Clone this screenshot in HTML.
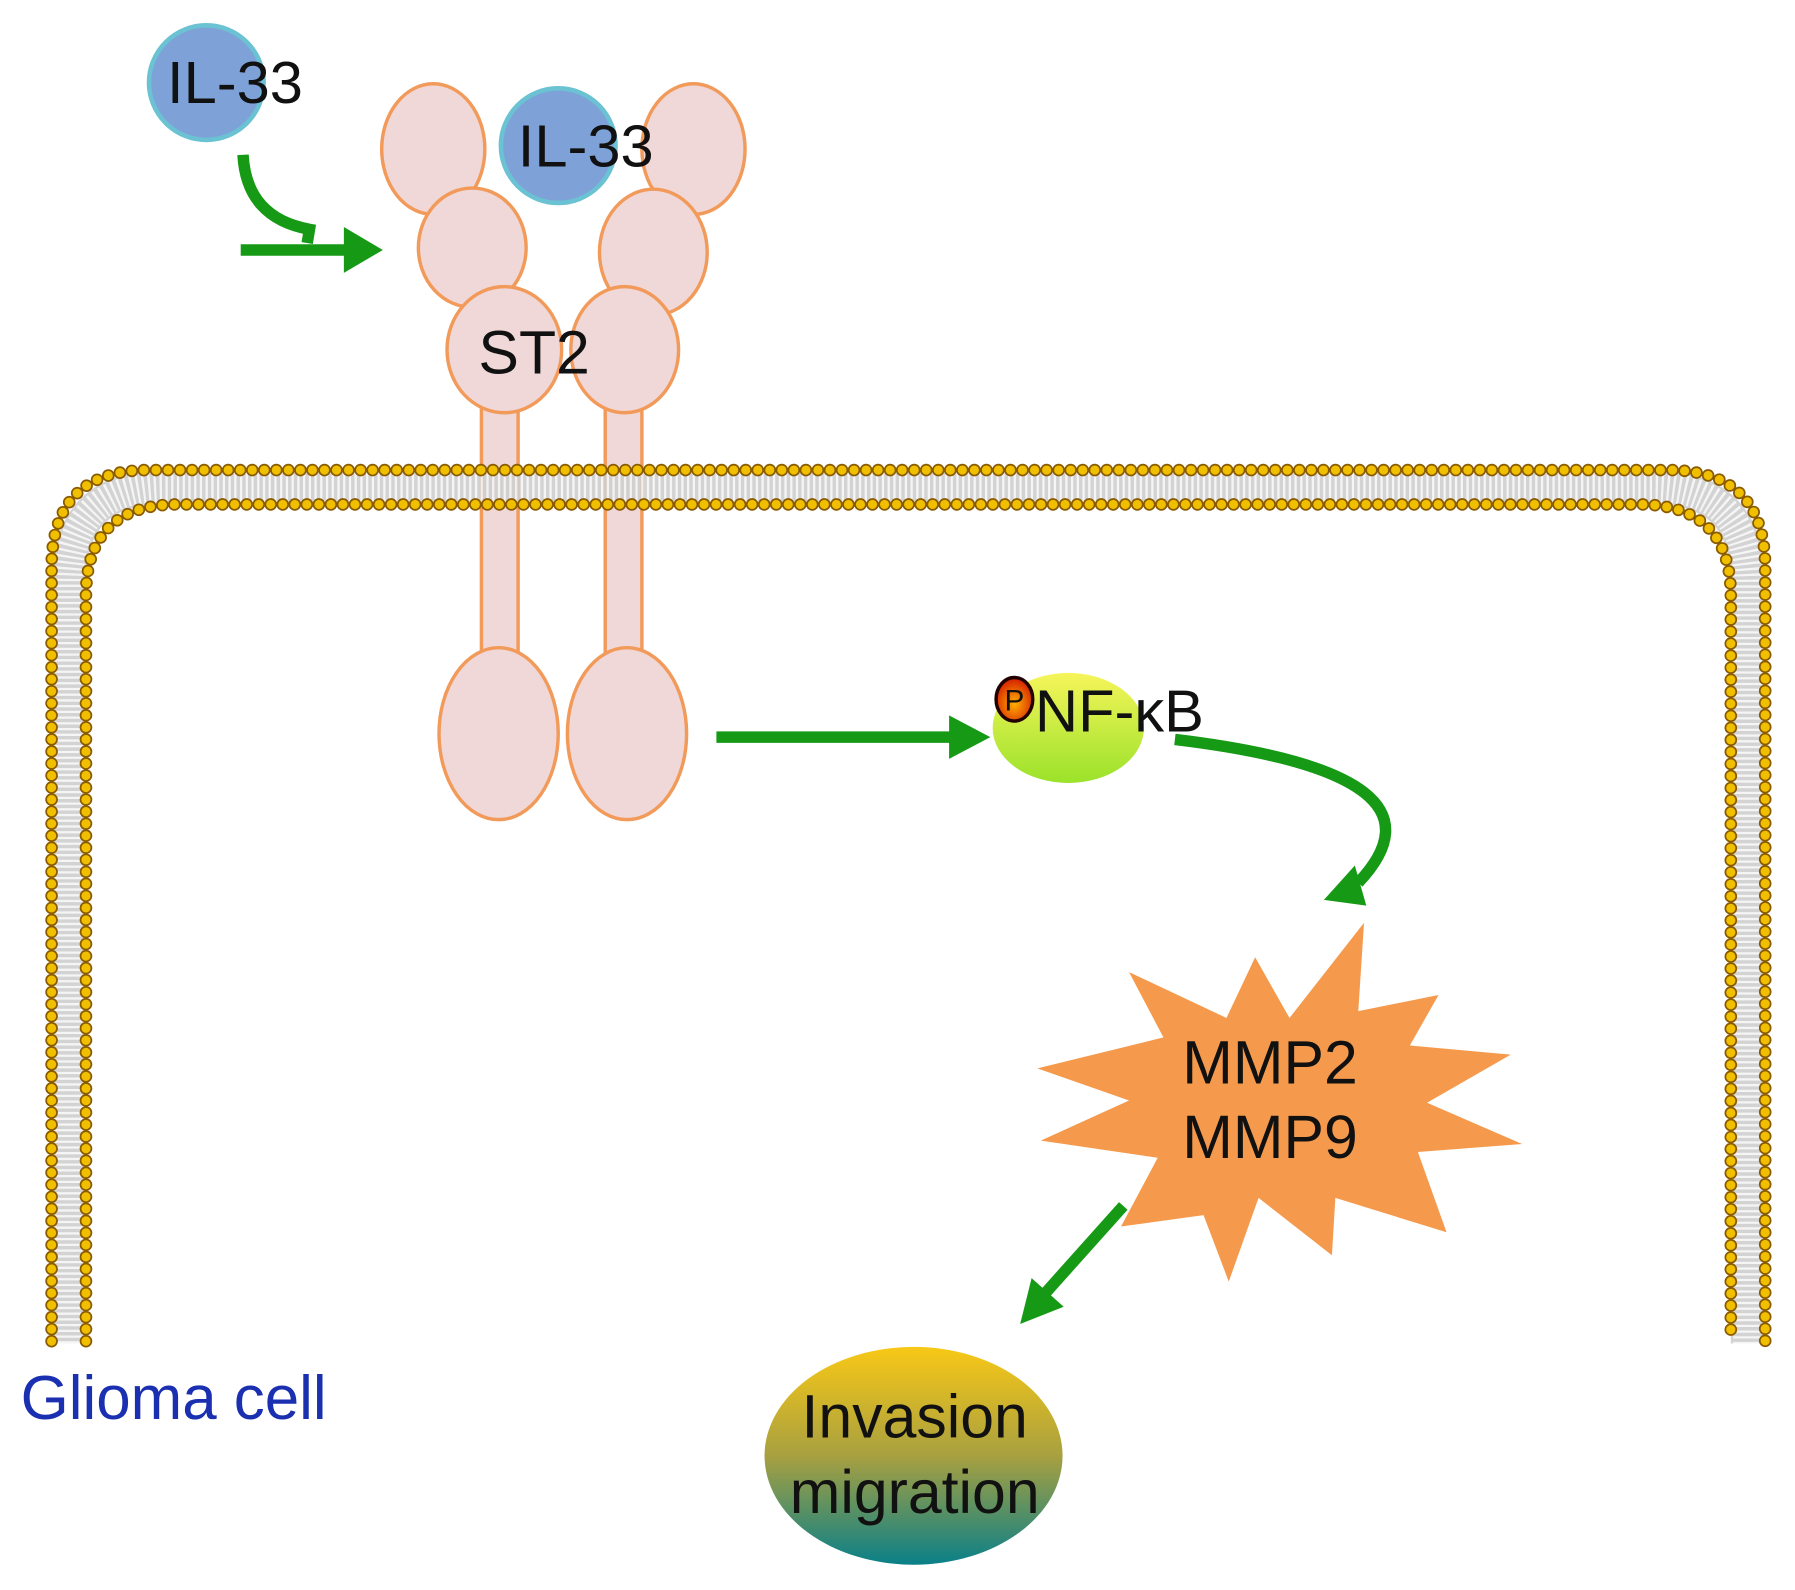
<!DOCTYPE html>
<html><head><meta charset="utf-8"><style>html,body{margin:0;padding:0;background:#fff}svg{display:block}</style></head>
<body>
<svg width="1795" height="1590" viewBox="0 0 1566 1387" xmlns="http://www.w3.org/2000/svg" font-family="Liberation Sans, sans-serif">
<defs>
<linearGradient id="nf" x1="0" y1="0" x2="0" y2="1"><stop offset="0" stop-color="#f6f55a"/><stop offset="1" stop-color="#9be22a"/></linearGradient>
<linearGradient id="inv" x1="0" y1="0" x2="0" y2="1"><stop offset="0" stop-color="#f8c816"/><stop offset="0.5" stop-color="#a8a040"/><stop offset="1" stop-color="#0a8088"/></linearGradient>
<radialGradient id="pg" cx="0.5" cy="0.6" r="0.6"><stop offset="0" stop-color="#ffb000"/><stop offset="1" stop-color="#d41a00"/></radialGradient>
</defs>
<g fill="#f0d8d8" stroke="#f29a5a" stroke-width="3">
<rect x="420" y="350" width="32" height="230"/>
<rect x="528" y="350" width="32" height="230"/>
</g>
<g opacity="0.9">
<path d="M60 1172 V508 Q60 425 143 425 H1442 Q1525 425 1525 508 V1172" fill="none" stroke="#cfcfcf" stroke-width="30"/>
<path d="M60 1172 V508 Q60 425 143 425 H1442 Q1525 425 1525 508 V1172" fill="none" stroke="#f4f4f4" stroke-width="26" stroke-dasharray="2 3"/>
</g>
<g fill="none" stroke-linecap="round" stroke-dasharray="0 10.5">
<path d="M45 1170 V495 Q45 410 130 410 H1455 Q1540 410 1540 495 V1170" stroke="#8a5a00" stroke-width="11"/>
<path d="M45 1170 V495 Q45 410 130 410 H1455 Q1540 410 1540 495 V1170" stroke="#f0c000" stroke-width="8"/>
<path d="M75 1170 V520 Q75 440 155 440 H1430 Q1510 440 1510 520 V1170" stroke="#8a5a00" stroke-width="11"/>
<path d="M75 1170 V520 Q75 440 155 440 H1430 Q1510 440 1510 520 V1170" stroke="#f0c000" stroke-width="8"/>
</g>
<circle cx="487" cy="127" r="50" fill="#7ea2d8" stroke="#6ac2d2" stroke-width="4"/>
<g fill="#f0d8d8" stroke="#f29a5a" stroke-width="3">
<ellipse cx="378" cy="130" rx="45" ry="57"/>
<ellipse cx="412" cy="216" rx="47" ry="52"/>
<ellipse cx="440" cy="305" rx="50" ry="55"/>
<ellipse cx="435" cy="640" rx="52" ry="75"/>
<ellipse cx="605" cy="130" rx="45" ry="57"/>
<ellipse cx="570" cy="220" rx="47" ry="55"/>
<ellipse cx="545" cy="305" rx="47" ry="55"/>
<ellipse cx="547" cy="640" rx="52" ry="75"/>
</g>
<text x="466" y="326" font-size="53" text-anchor="middle" fill="#111">ST2</text>
<circle cx="180" cy="72" r="50" fill="#7ea2d8" stroke="#6ac2d2" stroke-width="4"/>
<text x="205" y="90" font-size="52" text-anchor="middle" fill="#111">IL-33</text>
<text x="511" y="145" font-size="52" text-anchor="middle" fill="#111">IL-33</text>
<g fill="none" stroke="#169a16" stroke-width="10">
<path d="M212 135 Q215 190 270 200 L268 212"/>
<line x1="210" y1="218" x2="305" y2="218"/>
<line x1="625" y1="643" x2="830" y2="643"/>
<path d="M1025 645 Q1275 675 1185 770"/>
<line x1="980" y1="1052" x2="912" y2="1128"/>
</g>
<g fill="#169a16">
<polygon points="300,198 334,218 300,238"/>
<polygon points="828,624 864,643 828,662"/>
<polygon points="1155,785 1192,790 1182,755"/>
<polygon points="890,1155 900,1115 928,1140"/>
</g>
<ellipse cx="932" cy="635" rx="66" ry="48" fill="url(#nf)"/>
<ellipse cx="885" cy="610" rx="16" ry="19" fill="url(#pg)" stroke="#200" stroke-width="3"/>
<text x="885" y="620" font-size="26" text-anchor="middle" fill="#111">P</text>
<text x="903" y="638" font-size="52" fill="#111">NF-κB</text>
<polygon fill="#f59a4c" points="1190,805 1185,882 1255,868 1230,912 1318,920 1245,962 1328,998 1237,1005 1262,1075 1165,1045 1162,1095 1098,1045 1072,1118 1050,1060 978,1070 1010,1010 908,995 985,960 905,932 1015,905 985,848 1070,888 1095,835 1125,888"/>
<text x="1108" y="945" font-size="53" text-anchor="middle" fill="#111">MMP2</text>
<text x="1108" y="1010" font-size="53" text-anchor="middle" fill="#111">MMP9</text>
<ellipse cx="797" cy="1270" rx="130" ry="95" fill="url(#inv)"/>
<text x="798" y="1254" font-size="53" text-anchor="middle" fill="#111">Invasion</text>
<text x="798" y="1320" font-size="53" text-anchor="middle" fill="#111">migration</text>
<text x="18" y="1238" font-size="54" fill="#1a30b0">Glioma cell</text>
</svg>
</body></html>
